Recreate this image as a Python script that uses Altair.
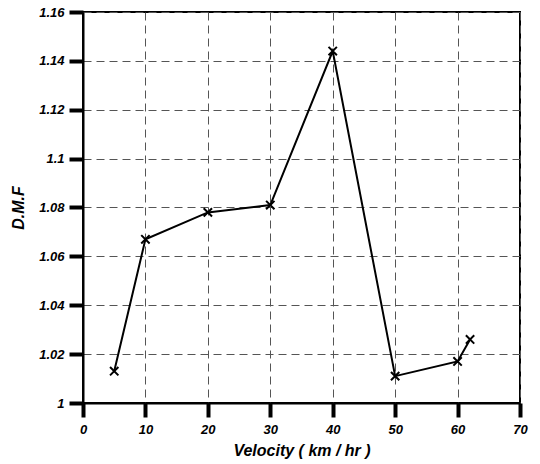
import altair as alt
import pandas as pd

velocity = [5, 10, 20, 30, 40, 50, 60, 62]
dmf = [1.013, 1.067, 1.078, 1.081, 1.144, 1.011, 1.017, 1.026]
x_ticks = [0, 10, 20, 30, 40, 50, 60, 70]
y_ticks = [1.0, 1.02, 1.04, 1.06, 1.08, 1.1, 1.12, 1.14, 1.16]

df = pd.DataFrame({"v": velocity, "d": dmf})

font = "Liberation Sans"

common = dict(
    domain=True, domainColor="#000000", domainWidth=2,
    ticks=True, tickColor="#000000", tickWidth=4, tickSize=14, tickOpacity=1,
    grid=True, gridColor="#555555", gridDash=[8, 5], gridWidth=1,
    labelFont=font, labelFontSize=13, labelFontWeight="bold", labelFontStyle="italic", labelColor="black",
    titleFont=font, titleFontSize=16, titleFontWeight="bold", titleFontStyle="italic", titleColor="black",
    labelFlush=False,
)

x = alt.X("v:Q", title="Velocity ( km / hr )",
          scale=alt.Scale(domain=[0, 70], nice=False, zero=False),
          axis=alt.Axis(values=x_ticks, format="d", labelPadding=6, titlePadding=6, **common))
y = alt.Y("d:Q", title="D.M.F",
          scale=alt.Scale(domain=[1.0, 1.16], nice=False, zero=False),
          axis=alt.Axis(values=y_ticks, format=".2~f", labelPadding=5, titlePadding=12, **common))

chart = alt.Chart(df).mark_line(
    color="black", strokeWidth=2,
    point=alt.OverlayMarkDef(shape="M-1,-1L1,1M-1,1L1,-1", size=70, color="black",
                             strokeWidth=2, filled=False, opacity=1),
).encode(x=x, y=y).properties(
    width=437, height=391,
    autosize=alt.AutoSizeParams(type="none"),
    padding={"left": 83, "top": 12, "right": 20, "bottom": 61},
    background="white",
).configure_view(
    stroke="black", strokeWidth=2
)

chart.save("out.html", embed_options={"renderer": "svg", "actions": False})
